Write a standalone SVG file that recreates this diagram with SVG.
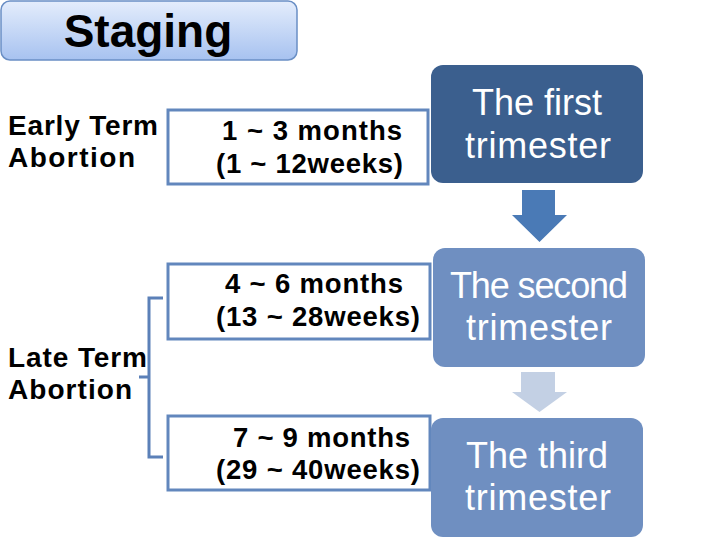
<svg xmlns="http://www.w3.org/2000/svg" width="720" height="540" viewBox="0 0 720 540">
<defs>
<linearGradient id="stg" x1="0" y1="0" x2="0" y2="1">
<stop offset="0" stop-color="#e4edfc"/>
<stop offset="1" stop-color="#a7c2f0"/>
</linearGradient>
<style>
.lbl{font-family:"Liberation Sans",Arial,sans-serif;font-weight:bold;font-size:28px;fill:#000}
.mon{font-family:"Liberation Sans",Arial,sans-serif;font-weight:bold;font-size:27.5px;fill:#000}
.tri{font-family:"Liberation Sans",Arial,sans-serif;font-size:36px;fill:#fff;text-anchor:middle}
.box{fill:#fff;stroke:#6287bd;stroke-width:3}
.con{fill:none;stroke:#5b80b8;stroke-width:3}
</style>
</defs>
<rect width="720" height="540" fill="#fff"/>
<g id="title">
<rect x="1" y="1" width="296" height="59" rx="9" fill="url(#stg)" stroke="#6a8fc5" stroke-width="1.5"/>
<text x="148" y="47" font-family="Liberation Sans, Arial, sans-serif" font-weight="bold" font-size="46" text-anchor="middle">Staging</text>
</g>
<g id="early">
<text class="lbl" x="8" y="135" textLength="150" lengthAdjust="spacing">Early Term</text>
<text class="lbl" x="8" y="167" textLength="127" lengthAdjust="spacing">Abortion</text>
</g>
<g id="late">
<text class="lbl" x="8" y="367" textLength="139" lengthAdjust="spacing">Late Term</text>
<text class="lbl" x="8" y="399" textLength="124" lengthAdjust="spacing">Abortion</text>
</g>
<g id="m1">
<rect class="box" x="168" y="110" width="260" height="74"/>
<text class="mon" x="222" y="140" textLength="180" lengthAdjust="spacing">1 ~ 3 months</text>
<text class="mon" x="216" y="173" textLength="187" lengthAdjust="spacing">(1 ~ 12weeks)</text>
</g>
<g id="m2">
<rect class="box" x="168" y="264" width="262" height="75"/>
<text class="mon" x="225" y="293" textLength="178" lengthAdjust="spacing">4 ~ 6 months</text>
<text class="mon" x="216" y="326" textLength="204" lengthAdjust="spacing">(13 ~ 28weeks)</text>
</g>
<g id="m3">
<rect class="box" x="168" y="416" width="262" height="74"/>
<text class="mon" x="233" y="447" textLength="177" lengthAdjust="spacing">7 ~ 9 months</text>
<text class="mon" x="216" y="479" textLength="204" lengthAdjust="spacing">(29 ~ 40weeks)</text>
</g>
<g id="t1">
<rect x="431" y="65" width="212" height="118" rx="12" fill="#3b5f8e"/>
<text class="tri" x="537" y="115">The first</text>
<text class="tri" x="538" y="158" textLength="146" lengthAdjust="spacing">trimester</text>
</g>
<g id="t2">
<rect x="433" y="248" width="212" height="119" rx="12" fill="#6f8fc1"/>
<text class="tri" x="539" y="298" textLength="178" lengthAdjust="spacing">The second</text>
<text class="tri" x="539" y="340" textLength="146" lengthAdjust="spacing">trimester</text>
</g>
<g id="t3">
<rect x="431" y="418" width="212" height="119" rx="12" fill="#6f8fc1"/>
<text class="tri" x="537" y="468">The third</text>
<text class="tri" x="538" y="510" textLength="146" lengthAdjust="spacing">trimester</text>
</g>
<g id="connectors">
<path class="con" d="M163,298 H149 V457 H163 M149,377 H139"/>
<path d="M522,190 H555 V215 H567 L539.5,242 L512,215 H522 Z" fill="#4a7ab6"/>
<path d="M521,372 H555 V392 H567 L539.5,412 L512,392 H521 Z" fill="#c3d0e4"/>
</g>
</svg>
